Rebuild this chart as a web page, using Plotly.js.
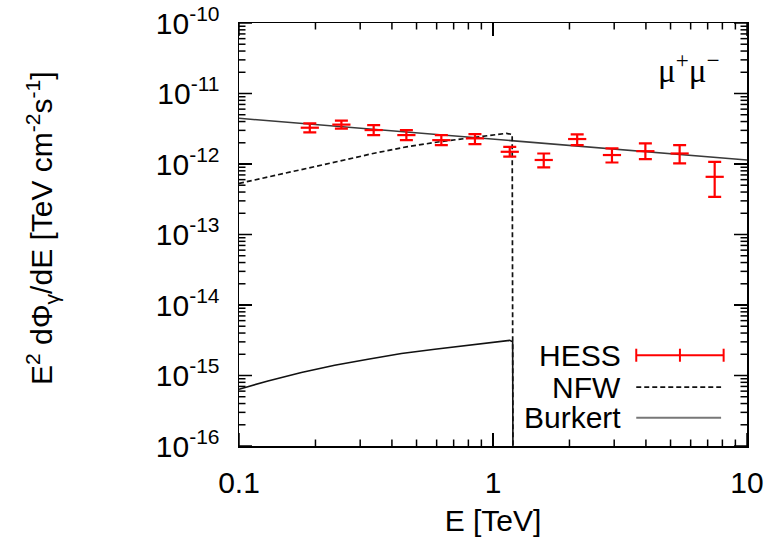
<!DOCTYPE html>
<html>
<head>
<meta charset="utf-8">
<script src="https://cdn.plot.ly/plotly-3.0.1.min.js"></script>
<style>html,body{margin:0;padding:0;background:#fff;}#chart{width:769px;height:540px;}</style>
</head>
<body>
<div id="chart"></div>
<script>
// HESS data points (E in TeV, E^2 dPhi/dE in TeV cm^-2 s^-1)
const energy  = [0.190, 0.253, 0.339, 0.456, 0.626, 0.849, 1.164, 1.584, 2.145, 2.94, 3.98, 5.43, 7.46];
const flux    = [3.27e-12, 3.62e-12, 3.03e-12, 2.57e-12, 2.18e-12, 2.31e-12, 1.49e-12, 1.14e-12, 2.26e-12, 1.34e-12, 1.52e-12, 1.41e-12, 6.58e-13];
const fluxHi  = [3.77e-12, 4.13e-12, 3.57e-12, 3.03e-12, 2.57e-12, 2.66e-12, 1.75e-12, 1.41e-12, 2.63e-12, 1.67e-12, 1.96e-12, 1.85e-12, 1.07e-12];
const fluxLo  = [2.81e-12, 3.18e-12, 2.57e-12, 2.18e-12, 1.85e-12, 1.92e-12, 1.27e-12, 8.95e-13, 1.85e-12, 1.05e-12, 1.17e-12, 1.02e-12, 3.42e-13];

// Total (background + Burkert) straight line
const totalE    = [0.1, 1, 10];
const totalFlux = [4.45e-12, 2.27e-12, 1.14e-12];

// NFW signal (dashed)
const nfwE    = [0.1, 0.136, 0.184, 0.249, 0.337, 0.456, 0.617, 0.834, 1.129, 1.19, 1.2];
const nfwFlux = [5.30e-13, 6.74e-13, 8.66e-13, 1.10e-12, 1.41e-12, 1.75e-12, 2.07e-12, 2.39e-12, 2.72e-12, 2.62e-12, 1e-17];

// Burkert signal (solid, lower)
const burkE    = [0.1, 0.130, 0.176, 0.238, 0.322, 0.436, 0.590, 0.797, 1.079, 1.163, 1.195, 1.2];
const burkFlux = [6.38e-16, 8.37e-16, 1.10e-15, 1.40e-15, 1.70e-15, 2.05e-15, 2.36e-15, 2.69e-15, 3.09e-15, 3.15e-15, 3.0e-15, 1e-17];

const yTickVals = [1e-16, 1e-15, 1e-14, 1e-13, 1e-12, 1e-11, 1e-10];
const yTickText = ['10<sup>-16</sup>','10<sup>-15</sup>','10<sup>-14</sup>','10<sup>-13</sup>','10<sup>-12</sup>','10<sup>-11</sup>','10<sup>-10</sup>'];
const xTickVals = [0.1, 1, 10];
const xTickText = ['0.1', '1', '10'];
const legendNames = ['HESS', 'NFW', 'Burkert'];

// minor tick positions (2..9 in every decade)
function minorTicks(lo, hi) {
  const out = [];
  for (let d = lo; d < hi; d++) for (let m = 2; m <= 9; m++) out.push(m * Math.pow(10, d));
  return out;
}
const xMinor = minorTicks(-1, 1);
const yMinor = minorTicks(-16, -10);

const FONT = 'Liberation Sans, Arial, Helvetica, sans-serif';
const FS = 30;
const RED = '#ff0000';
const MAJOR_LEN = 13, MINOR_LEN = 6.5, TICK_W = 1.5;

const traces = [
  {x: totalE, y: totalFlux, mode: 'lines', line: {color: '#3a3a3a', width: 1.6}, showlegend: false},
  {x: nfwE, y: nfwFlux, mode: 'lines', line: {color: '#111', width: 1.7, dash: '5px,3px'}, showlegend: false},
  {x: burkE, y: burkFlux, mode: 'lines', line: {color: '#111', width: 1.6}, showlegend: false},
  {x: energy, y: flux, mode: 'markers', showlegend: false,
   marker: {symbol: 'line-ew', size: 13, color: RED, line: {color: RED, width: 2.2}},
   error_y: {type: 'data', symmetric: false,
             array: fluxHi.map((h, i) => h - flux[i]),
             arrayminus: fluxLo.map((l, i) => flux[i] - l),
             color: RED, thickness: 2.2, width: 6.5}}
];

// legend drawn in paper coordinates
const lgX0 = 0.782, lgX1 = 0.954, lgTxt = 0.755;
const lgY = [0.2146, 0.139, 0.067];
const tickH = 0.0154;
const shapes = [
  {type: 'line', xref: 'paper', yref: 'paper', x0: lgX0, x1: lgX1, y0: lgY[0], y1: lgY[0], line: {color: RED, width: 2}},
  {type: 'line', xref: 'paper', yref: 'paper', x0: lgX0, x1: lgX0, y0: lgY[0]-tickH, y1: lgY[0]+tickH, line: {color: RED, width: 2}},
  {type: 'line', xref: 'paper', yref: 'paper', x0: (lgX0+lgX1)/2, x1: (lgX0+lgX1)/2, y0: lgY[0]-tickH, y1: lgY[0]+tickH, line: {color: RED, width: 2}},
  {type: 'line', xref: 'paper', yref: 'paper', x0: lgX1, x1: lgX1, y0: lgY[0]-tickH, y1: lgY[0]+tickH, line: {color: RED, width: 2}},
  {type: 'line', xref: 'paper', yref: 'paper', x0: lgX0, x1: lgX1-0.005, y0: lgY[1], y1: lgY[1], line: {color: '#111', width: 1.7, dash: '5px,3px'}},
  {type: 'line', xref: 'paper', yref: 'paper', x0: lgX0, x1: lgX1-0.005, y0: lgY[2], y1: lgY[2], line: {color: '#777', width: 2}}
];

const annotations = legendNames.map((n, i) => ({
  text: n, xref: 'paper', yref: 'paper', x: lgTxt, y: lgY[i], xanchor: 'right', yanchor: 'middle',
  showarrow: false, font: {family: FONT, size: FS, color: '#000'}
}));
annotations.push({
  text: 'μ<sup>+</sup>μ<sup>−</sup>', xref: 'paper', yref: 'paper', x: 0.885, y: 0.893,
  xanchor: 'center', yanchor: 'middle', showarrow: false,
  font: {family: 'Liberation Serif, Times New Roman, serif', size: 33, color: '#000'}
});
annotations.push({
  text: 'E<sup>2</sup> dΦ<sub>γ</sub>/dE [TeV cm<sup>-2</sup>s<sup>-1</sup>]', xref: 'paper', yref: 'paper',
  x: -0.388, y: 0.515, xanchor: 'center', yanchor: 'middle', textangle: -90, showarrow: false,
  font: {family: FONT, size: FS, color: '#000'}
});

const axisCommon = {
  type: 'log', showgrid: false, zeroline: false, showline: true, linecolor: '#000', linewidth: 1.5,
  mirror: 'allticks', ticks: 'inside', ticklen: MAJOR_LEN, tickwidth: TICK_W, tickcolor: '#000',
  tickmode: 'array', tickfont: {family: FONT, size: FS, color: '#000'}
};

const layout = {
  width: 769, height: 540,
  margin: {l: 239, r: 22, t: 23, b: 94},
  paper_bgcolor: '#fff', plot_bgcolor: '#fff',
  xaxis: Object.assign({}, axisCommon, {
    range: [-1, 1], tickvals: xTickVals, ticktext: xTickText, ticklabelstandoff: 9,
    title: {text: 'E [TeV]', font: {family: FONT, size: FS, color: '#000'}, standoff: 12}
  }),
  yaxis: Object.assign({}, axisCommon, {
    range: [-16, -10], tickvals: yTickVals, ticktext: yTickText, ticklabelstandoff: 12
  }),
  shapes: shapes,
  annotations: annotations,
  showlegend: false
};

// Inside tick marks on all four sides, placed with the axes' own scale functions
function drawFrameTicks(gd) {
  const fl = gd._fullLayout, xa = fl.xaxis, ya = fl.yaxis;
  const svg = gd.querySelector('svg.main-svg');
  if (!svg || !xa || !ya) return;
  const NS = 'http://www.w3.org/2000/svg';
  const old = svg.querySelector('g.frame-ticks');
  if (old) old.remove();
  const g = document.createElementNS(NS, 'g');
  g.setAttribute('class', 'frame-ticks');
  const top = ya._offset, bot = ya._offset + ya._length;
  const left = xa._offset, right = xa._offset + xa._length;
  const xp = v => xa._offset + xa.l2p(Math.log10(v));
  const yp = v => ya._offset + ya.l2p(Math.log10(v));
  const line = (x1, y1, x2, y2) => {
    const l = document.createElementNS(NS, 'line');
    l.setAttribute('x1', x1); l.setAttribute('y1', y1);
    l.setAttribute('x2', x2); l.setAttribute('y2', y2);
    l.setAttribute('stroke', '#000'); l.setAttribute('stroke-width', TICK_W);
    g.appendChild(l);
  };
  const xTicks = xTickVals.map(v => [v, MAJOR_LEN]).concat(xMinor.map(v => [v, MINOR_LEN]));
  const yTicks = yTickVals.map(v => [v, MAJOR_LEN]).concat(yMinor.map(v => [v, MINOR_LEN]));
  xTicks.forEach(([v, len]) => { const x = xp(v); line(x, bot, x, bot - len); line(x, top, x, top + len); });
  yTicks.forEach(([v, len]) => { const y = yp(v); line(left, y, left + len, y); line(right, y, right - len, y); });
  svg.appendChild(g);
}

Plotly.newPlot('chart', traces, layout, {displayModeBar: false, staticPlot: true})
  .then(gd => { drawFrameTicks(gd); setTimeout(() => drawFrameTicks(gd), 50); });
</script>
</body>
</html>
